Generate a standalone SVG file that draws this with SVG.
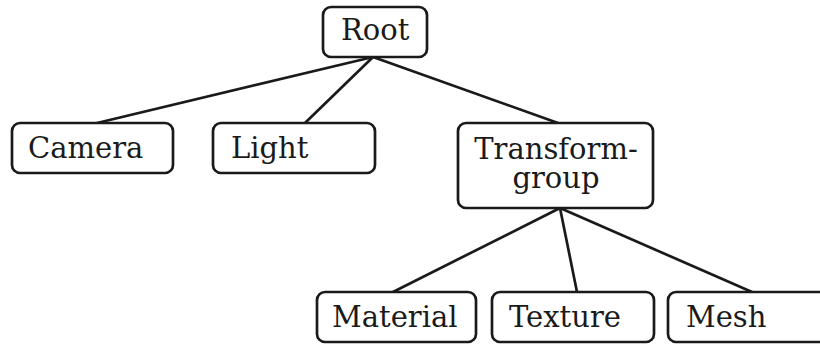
<svg xmlns="http://www.w3.org/2000/svg" width="820" height="345" viewBox="0 0 820 345">
<style>
.box{fill:#fff;stroke:#1a1a1a;stroke-width:2.7}
.lbl{font-family:"DejaVu Serif","Liberation Serif",serif;font-size:29px;fill:#1a1a1a}
.c{text-anchor:middle}
.edge{stroke:#1a1a1a;stroke-width:2.7;fill:none}
</style>
<rect width="820" height="345" fill="#fff"/>
<g id="connectors">
<line class="edge" x1="373" y1="57" x2="97" y2="123"/>
<line class="edge" x1="373" y1="57" x2="305" y2="123"/>
<line class="edge" x1="373" y1="57" x2="558" y2="123"/>
<line class="edge" x1="560" y1="208" x2="393" y2="292"/>
<line class="edge" x1="560" y1="208" x2="577" y2="292"/>
<line class="edge" x1="560" y1="208" x2="752" y2="292"/>
</g>
<g id="root"><rect class="box" x="323" y="7" width="104" height="50" rx="8"/><text class="lbl" x="341" y="40">Root</text></g>
<g id="camera"><rect class="box" x="12" y="123" width="161" height="50" rx="8"/><text class="lbl" x="28" y="158">Camera</text></g>
<g id="light"><rect class="box" x="213" y="123" width="162" height="50" rx="8"/><text class="lbl" x="231" y="158">Light</text></g>
<g id="transformgroup"><rect class="box" x="458" y="123" width="195" height="85" rx="8"/><text class="lbl c" x="556" y="159">Transform-</text><text class="lbl c" x="556" y="188">group</text></g>
<g id="material"><rect class="box" x="317" y="292" width="159" height="50" rx="8"/><text class="lbl" x="332" y="327">Material</text></g>
<g id="texture"><rect class="box" x="492" y="292" width="162" height="50" rx="8"/><text class="lbl" x="509" y="327">Texture</text></g>
<g id="mesh"><rect class="box" x="668" y="292" width="165" height="50" rx="8"/><text class="lbl" x="686" y="327">Mesh</text></g>
</svg>
